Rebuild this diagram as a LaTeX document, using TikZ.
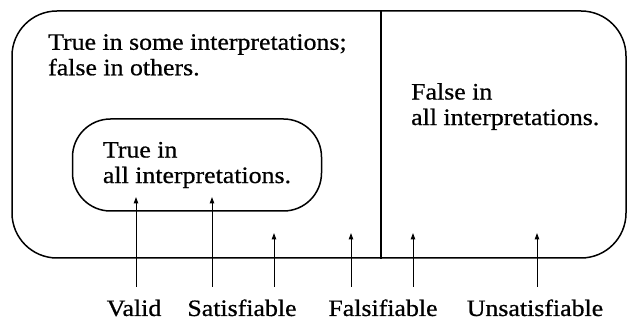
\documentclass[tikz,border=0pt]{standalone}
\usepackage{fontspec}
\setmainfont{Liberation Serif}[FakeStretch=1.1, FakeBold=0.7]
\usetikzlibrary{arrows.meta, positioning}
\tikzset{
  region/.style={draw, line width=1.5pt, rounded corners=#1},
  note/.style={font=\fontsize{23.5}{25.5}\selectfont, align=left, inner sep=0pt},
  pointer/.style={line width=1pt, -{Triangle[length=6.5pt,width=4.5pt]}},
  tag/.style={font=\fontsize{23.5}{25.5}\selectfont, inner sep=0pt, anchor=base},
}

\begin{document}
\begin{tikzpicture}[x=1pt, y=-1pt]
  \useasboundingbox (0,0) rectangle (627,320);
  % outer region, split in two
  \node[region=45, minimum width=614pt, minimum height=247pt] (world) at (319,134.5) {};
  \coordinate (divtop) at (381,11);
  \draw[line width=1.1pt] (divtop) -- (divtop |- world.south);
  \node[note, anchor=north west] (mixed) at (48,34) {True in some interpretations;\\false in others.};
  \node[note, anchor=north west] (never) at (411,83) {False in\\all interpretations.};
  % inner region
  \node[note, region=38, minimum width=249pt, minimum height=92pt] (always) at (197,165) {True in\\all interpretations.};
  % labels
  \node[tag] (valid) at (134,316) {Valid};
  \node[tag] (sat) at (242,316) {Satisfiable};
  \node[tag] (fals) at (383,316) {Falsifiable};
  \node[tag] (unsat) at (535,316) {Unsatisfiable};
  % arrows up into the regions
  \foreach \i/\x/\tip in {1/136/197, 2/212/197, 3/274/233, 4/351/233, 5/413/233, 6/537/233} {
    \coordinate (tail\i) at (\x,287);
    \coordinate (tip\i) at (\x,\tip);
    \draw[pointer] (tail\i) -- (tip\i);
  }
\end{tikzpicture}
\end{document}
